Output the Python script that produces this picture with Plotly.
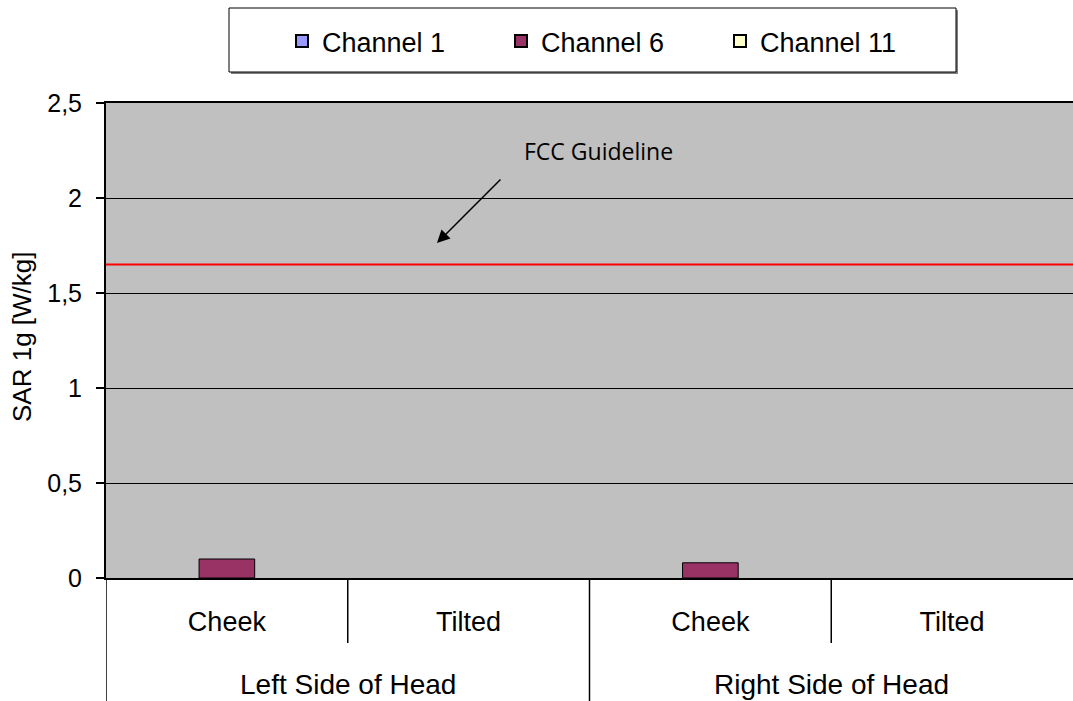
import plotly.graph_objects as go

categories = ["Cheek", "Tilted", "Cheek", "Tilted"]
groups = ["Left Side of Head", "Right Side of Head"]
series_names = ["Channel 1", "Channel 6", "Channel 11"]
channel1 = [None, None, None, None]
channel6 = [0.10, None, 0.08, None]
channel11 = [None, None, None, None]
fcc_limit = 1.65
y_ticks = [0, 0.5, 1, 1.5, 2, 2.5]
y_ticktext = ["0", "0,5", "1", "1,5", "2", "2,5"]

colors = ["#9999FF", "#993366", "#FFFFCC"]
xs = list(range(len(categories)))

W, H = 1073, 701
L, R, T, B = 106, 0, 103, 123
pw, ph = W - L - R, H - T - B

def px_x(p):
    return (p - L) / pw

def px_y(p):
    return (H - B - p) / ph

FONT = "Liberation Sans, Arial, sans-serif"

fig = go.Figure()
for name, vals, col in zip(series_names, [channel1, channel6, channel11], colors):
    fig.add_trace(go.Bar(x=xs, y=vals, name=name, marker=dict(color=col, line=dict(color="black", width=1))))

shapes = []
# legend box shadow + box
shapes.append(dict(type="rect", xref="paper", yref="paper",
                   x0=px_x(231), x1=px_x(958), y0=px_y(74), y1=px_y(10),
                   line=dict(width=0), fillcolor="#808080", layer="above"))
shapes.append(dict(type="rect", xref="paper", yref="paper",
                   x0=px_x(229), x1=px_x(956), y0=px_y(72), y1=px_y(8),
                   line=dict(color="black", width=1), fillcolor="white", layer="above"))
# FCC line
shapes.append(dict(type="line", xref="paper", yref="y", x0=0, x1=1, y0=fcc_limit, y1=fcc_limit,
                   line=dict(color="#FF0000", width=2)))
# category separators
for xv in [0.5, 2.5]:
    shapes.append(dict(type="line", xref="x", yref="paper", x0=xv, x1=xv, y0=0, y1=px_y(643),
                       line=dict(color="black", width=1.5)))
for xv in [-0.5, 1.5]:
    shapes.append(dict(type="line", xref="x", yref="paper", x0=xv, x1=xv, y0=0, y1=px_y(701),
                       line=dict(color="black", width=1.5)))

annotations = []
for gi, g in enumerate(groups):
    annotations.append(dict(x=gi * 2 + 0.5, xref="x", y=px_y(684), yref="paper", text=g,
                            showarrow=False, font=dict(family=FONT, size=28, color="black"),
                            xanchor="center", yanchor="middle"))
annotations.append(dict(x=px_x(22), xref="paper", y=px_y(337), yref="paper", text="SAR 1g [W/kg]",
                        textangle=-90, showarrow=False, font=dict(family=FONT, size=26, color="black"),
                        xanchor="center", yanchor="middle"))
annotations.append(dict(x=px_x(598), xref="paper", y=px_y(151), yref="paper", text="FCC Guideline",
                        showarrow=False, font=dict(family="Open Sans, sans-serif", size=23, color="black"),
                        xanchor="center", yanchor="middle"))
annotations.append(dict(x=0.869, y=1.763, xref="x", yref="y", ax=1.138, ay=2.105, axref="x", ayref="y",
                        text="", showarrow=True, arrowhead=2, arrowsize=1.7, arrowwidth=1.5,
                        arrowcolor="black"))

fig.update_layout(
    width=W, height=H,
    margin=dict(l=L, r=R, t=T, b=B, autoexpand=False),
    paper_bgcolor="white", plot_bgcolor="#C0C0C0",
    barmode="group", bargap=0.31, bargroupgap=0,
    shapes=shapes, annotations=annotations,
    showlegend=True,
    legend=dict(orientation="h", x=px_x(282), y=px_y(41.5), xanchor="left", yanchor="middle",
                bgcolor="rgba(0,0,0,0)", borderwidth=0,
                font=dict(family=FONT, size=27, color="black"),
                entrywidth=174, entrywidthmode="pixels", itemsizing="constant"),
    font=dict(family=FONT, color="black"),
)
fig.update_xaxes(range=[-0.5, 3.5], tickvals=xs, ticktext=categories, ticks="",
                 showgrid=False, zeroline=False, showline=True, linecolor="black", linewidth=2,
                 mirror=True, tickfont=dict(family=FONT, size=27, color="black"),
                 ticklabelstandoff=19, fixedrange=True)
fig.update_yaxes(range=[0, 2.5], tickvals=y_ticks, ticktext=y_ticktext, ticks="outside", ticklen=8,
                 tickcolor="black", tickwidth=1.5,
                 showgrid=True, gridcolor="black", gridwidth=1, zeroline=False,
                 showline=True, linecolor="black", linewidth=2, mirror=True,
                 tickfont=dict(family=FONT, size=25, color="black"), ticklabelstandoff=9,
                 fixedrange=True)

fig.write_html("out.html", config={"displayModeBar": False, "staticPlot": True},
               post_script="document.body.style.margin='0px';")
